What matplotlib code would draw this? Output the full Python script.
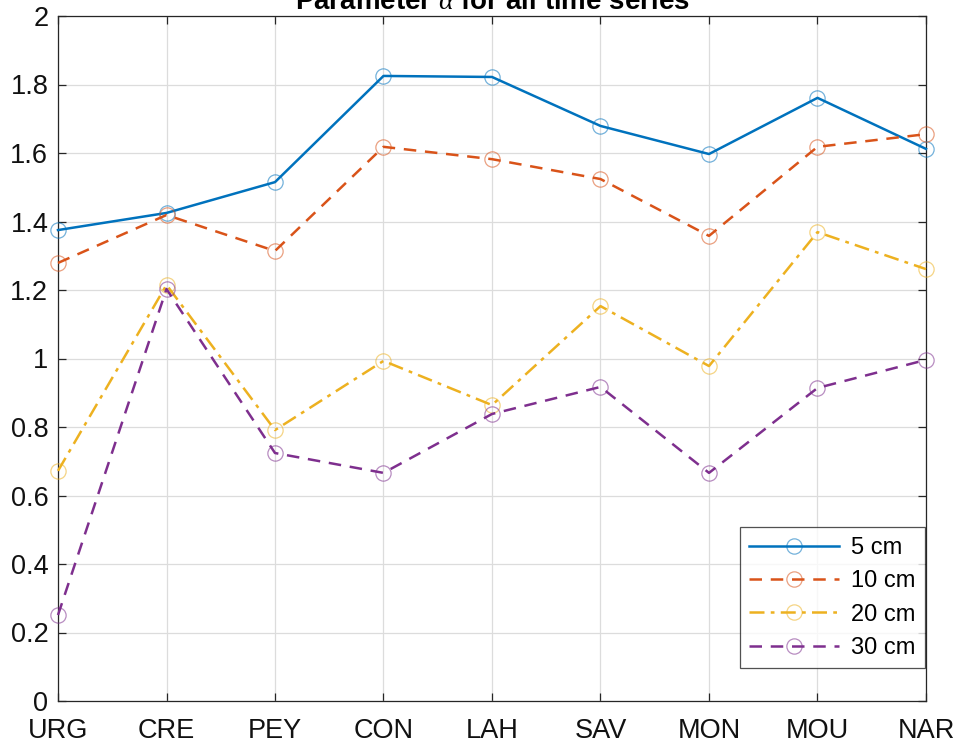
import matplotlib
matplotlib.use("Agg")
import matplotlib.pyplot as plt
from matplotlib.colors import to_rgba

sites = ["URG", "CRE", "PEY", "CON", "LAH", "SAV", "MON", "MOU", "NAR"]
alpha_5cm = [1.375, 1.425, 1.515, 1.825, 1.822, 1.679, 1.597, 1.761, 1.612]
alpha_10cm = [1.279, 1.419, 1.314, 1.618, 1.582, 1.524, 1.358, 1.618, 1.655]
alpha_20cm = [0.672, 1.215, 0.791, 0.993, 0.864, 1.153, 0.978, 1.369, 1.261]
alpha_30cm = [0.251, 1.203, 0.724, 0.666, 0.838, 0.917, 0.666, 0.914, 0.996]
series_labels = ["5 cm", "10 cm", "20 cm", "30 cm"]
yticks = [0, 0.2, 0.4, 0.6, 0.8, 1.0, 1.2, 1.4, 1.6, 1.8, 2.0]
ytick_labels = ["0", "0.2", "0.4", "0.6", "0.8", "1", "1.2", "1.4", "1.6", "1.8", "2"]

plt.rcParams['font.family'] = ['Liberation Sans', 'DejaVu Sans']
plt.rcParams['mathtext.fontset'] = 'custom'
plt.rcParams['mathtext.it'] = 'Liberation Serif:italic'

fig = plt.figure(figsize=(9.58, 7.42), dpi=100)
ax = fig.add_axes([58/958, 41/742, 868/958, 685/742])

x = list(range(len(sites)))
colors = ["#0072BD", "#D95319", "#EDB120", "#7E2F8E"]
styles = ["-", (0, (5, 3.5)), (0, (6, 2.5, 1.5, 2.5)), (0, (5, 3.5))]
data = [alpha_5cm, alpha_10cm, alpha_20cm, alpha_30cm]
for vals, c, ls, lab in zip(data, colors, styles, series_labels):
    ax.plot(x, vals, color=c, linestyle=ls, linewidth=1.8, marker='o',
            markersize=11, markerfacecolor='none',
            markeredgecolor=to_rgba(c, 0.55), markeredgewidth=0.9,
            label=lab, clip_on=False, zorder=3)

ax.set_xlim(0, len(sites) - 1)
ax.set_ylim(0, 2)
ax.set_xticks(x)
ax.set_xticklabels(sites)
ax.set_yticks(yticks)
ax.set_yticklabels(ytick_labels)
ax.grid(True, color='#dcdcdc', linewidth=0.9)
ax.set_axisbelow(True)
ax.tick_params(direction='in', length=6, width=0.9, colors='#262626',
               labelcolor='#111111', labelsize=19.5, top=True, right=True, pad=7)
ax.tick_params(axis='x', pad=12)
for s in ax.spines.values():
    s.set_color('#262626')
    s.set_linewidth(0.9)

leg = ax.legend(loc='lower right', bbox_to_anchor=(1.0, 0.046), fontsize=17,
                frameon=True, fancybox=False, edgecolor='#262626',
                handlelength=3.8, borderpad=0.4, labelspacing=0.48,
                handletextpad=0.5, borderaxespad=0.05)
leg.get_frame().set_linewidth(0.9)

fig.text((58 + 926) / 2 / 958, 1 - 9/742, r"Parameter $\alpha$ for all time series",
         ha='center', va='baseline', fontsize=20, fontweight='bold')

fig.savefig("out.png", dpi=100)
